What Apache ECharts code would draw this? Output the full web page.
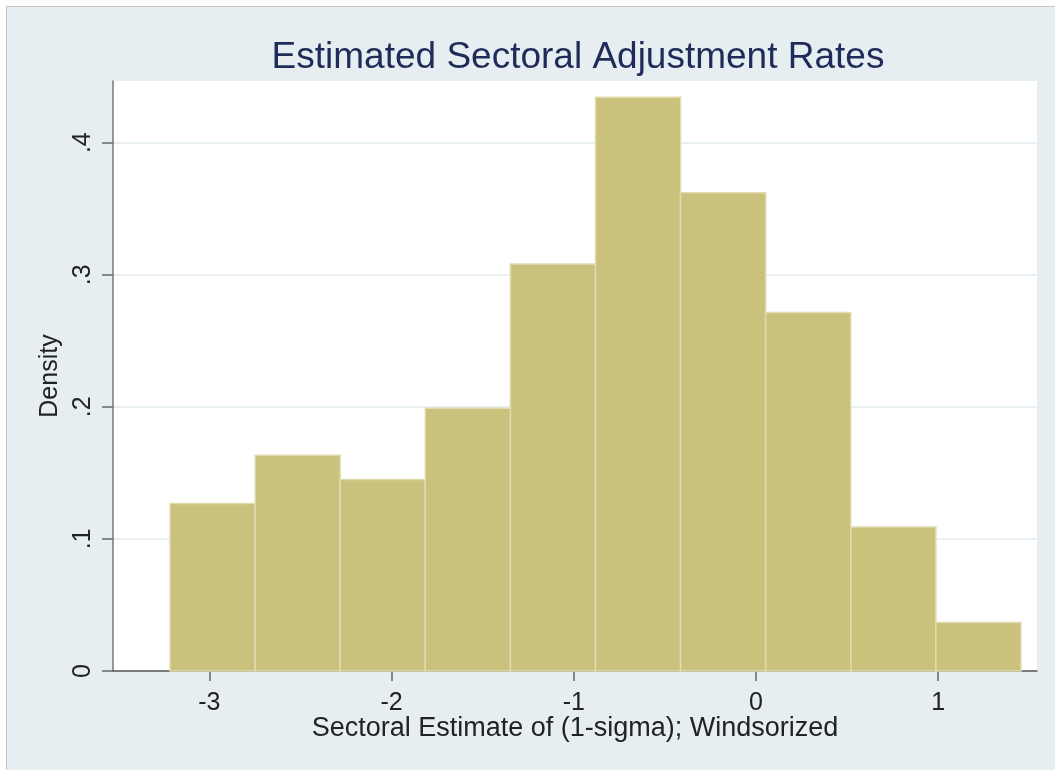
<!DOCTYPE html>
<html>
<head>
<meta charset="utf-8">
<script src="https://cdn.jsdelivr.net/npm/echarts@6/dist/echarts.min.js"></script>
<style>
html,body{margin:0;padding:0;background:#fff;width:1055px;height:770px;overflow:hidden;}
#frame{position:absolute;left:6px;top:6px;width:1049px;height:764px;border-top:1px solid #c4c6c8;border-left:1px solid #c4c6c8;background:#e6eef2;}
#chart{position:absolute;left:0;top:0;width:1048px;height:763px;}
</style>
</head>
<body>
<div id="frame"><div id="chart"></div></div>
<script>
// Histogram data (density), bins of equal width
const binStart = -3.216;
const binWidth = 0.467;
const densities = [0.1268, 0.1634, 0.1450, 0.1990, 0.3081, 0.4344, 0.3621, 0.2715, 0.1091, 0.0367];
const xTicks = [-3, -2, -1, 0, 1];
const yTicks = [0, 0.1, 0.2, 0.3, 0.4];
const titleText = 'Estimated Sectoral Adjustment Rates';
const xTitle = 'Sectoral Estimate of (1-sigma); Windsorized';
const yTitle = 'Density';

const bars = densities.map((d, i) => [binStart + i * binWidth, binStart + (i + 1) * binWidth, d]);
const font = '"Liberation Sans", Arial, Helvetica, sans-serif';

const chart = echarts.init(document.getElementById('chart'));
chart.setOption({
  animation: false,
  title: {
    text: titleText,
    left: 566, top: 27, textAlign: 'center',
    textStyle: {fontFamily: font, fontSize: 37, fontWeight: 'normal', color: '#1f2b58'}
  },
  grid: {left: 106, top: 74, width: 924, height: 590, show: true, backgroundColor: '#ffffff', borderWidth: 0},
  xAxis: {
    type: 'value', min: -3.529, max: 1.542,
    axisLine: {show: true, onZero: false, lineStyle: {color: '#555', width: 1.5}},
    axisTick: {show: true, customValues: xTicks, length: 10, lineStyle: {color: '#666', width: 1.5}},
    axisLabel: {customValues: xTicks, margin: 20, fontFamily: font, fontSize: 25, color: '#222'},
    splitLine: {show: false},
    name: xTitle, nameLocation: 'middle', nameGap: 44, nameMoveOverlap: false,
    nameTextStyle: {fontFamily: font, fontSize: 27, color: '#222'}
  },
  yAxis: {
    type: 'value', min: 0, max: 0.4467,
    axisLine: {show: true, onZero: false, lineStyle: {color: '#777', width: 1.5}},
    axisTick: {show: true, customValues: yTicks, length: 11, lineStyle: {color: '#666', width: 1.5}},
    axisLabel: {
      customValues: yTicks, rotate: 90, margin: 17, fontFamily: font, fontSize: 25, color: '#222',
      formatter: v => v === 0 ? '0' : v.toFixed(1).replace(/^0/, '')
    },
    splitLine: {show: true, lineStyle: {color: '#e2ebef', width: 1.5}},
    name: yTitle, nameLocation: 'middle', nameGap: 50, nameMoveOverlap: false,
    nameTextStyle: {fontFamily: font, fontSize: 25, color: '#222'}
  },
  series: [{
    type: 'custom',
    data: bars,
    encode: {x: [0, 1], y: 2},
    renderItem: function (params, api) {
      const p0 = api.coord([api.value(0), api.value(2)]);
      const p1 = api.coord([api.value(1), 0]);
      return {
        type: 'rect',
        shape: {x: p0[0], y: p0[1], width: p1[0] - p0[0], height: p1[1] - p0[1]},
        style: {fill: '#c9c17c', stroke: '#e0dcae', lineWidth: 1.5}
      };
    }
  }]
});
</script>
</body>
</html>
